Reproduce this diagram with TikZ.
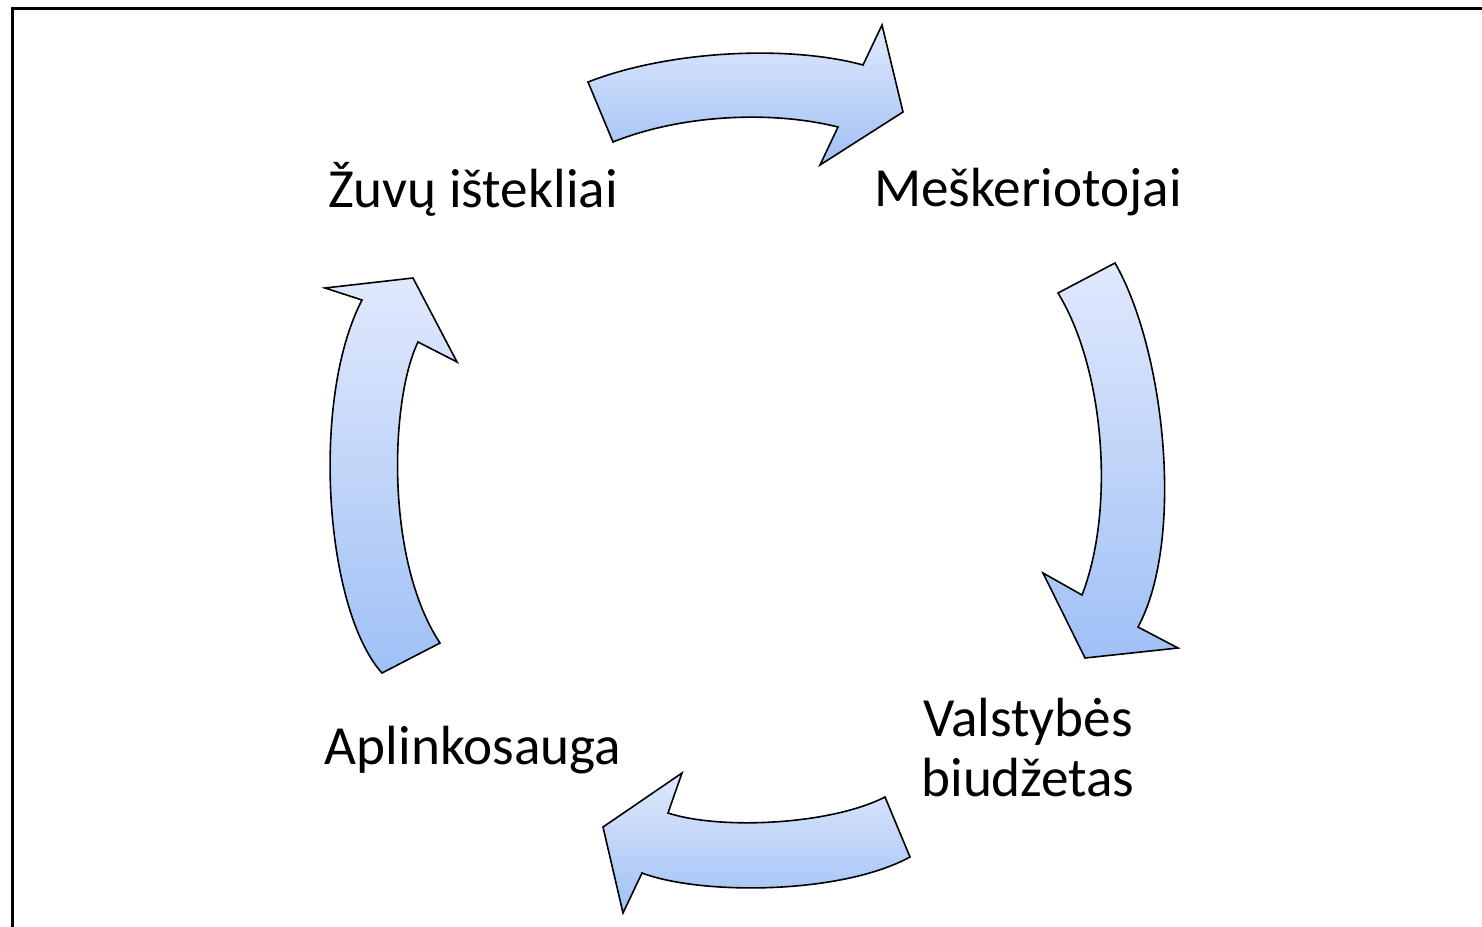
\documentclass[tikz,border=0pt]{standalone}
\usepackage{fontspec}
\setmainfont{Carlito}
\definecolor{arrowtop}{RGB}{224,233,252}
\definecolor{arrowbot}{RGB}{160,192,246}
\tikzset{cyclearrow/.style={draw=black, line width=0.8pt, line join=miter,
    top color=arrowtop, bottom color=arrowbot}}
\tikzset{lbl/.style={inner sep=0pt, font=\fontsize{27.6}{30}\selectfont}}

\begin{document}
\begin{tikzpicture}[x=0.5pt, y=-0.5pt]
    \useasboundingbox (0,0) rectangle (1482,926);
    \draw[line width=1.5pt] (12,8) rectangle (1520,960);
    % the four arrows
    \draw[cyclearrow] (588,82) .. controls (670,50) and (790,45) .. (863,65)
        -- (882,25) -- (903,112) -- (820,165) -- (838,127)
        .. controls (770,110) and (680,115) .. (613,142) -- cycle;
    \draw[cyclearrow] (1058,293) -- (1115,263) .. controls (1165,350) and (1185,540) .. (1138,627)
        -- (1178,648) -- (1085,658) -- (1043,573) -- (1082,595)
        .. controls (1115,510) and (1105,370) .. (1058,293) -- cycle;
    \draw[cyclearrow] (885,797) .. controls (830,825) and (720,830) .. (668,813)
        -- (682,773) -- (603,827) -- (623,913) -- (642,873)
        .. controls (700,895) and (840,895) .. (910,857) -- cycle;
    \draw[cyclearrow] (382,673) .. controls (325,610) and (310,400) .. (362,300)
        -- (325,288) -- (413,278) -- (457,362) -- (418,342)
        .. controls (390,400) and (385,560) .. (440,643) -- cycle;
    % labels
    \node[lbl, anchor=base] (zuvys) at (473,207) {Žuvų ištekliai};
    \node[lbl, anchor=base] (meskeriotojai) at (1028,206) {Meškeriotojai};
    \node[lbl, anchor=base] (aplinka) at (473,764) {Aplinkosauga};
    \node[lbl, align=center] (biudzetas) at (1028,748) {Valstybės\\biudžetas};
\end{tikzpicture}
\end{document}
